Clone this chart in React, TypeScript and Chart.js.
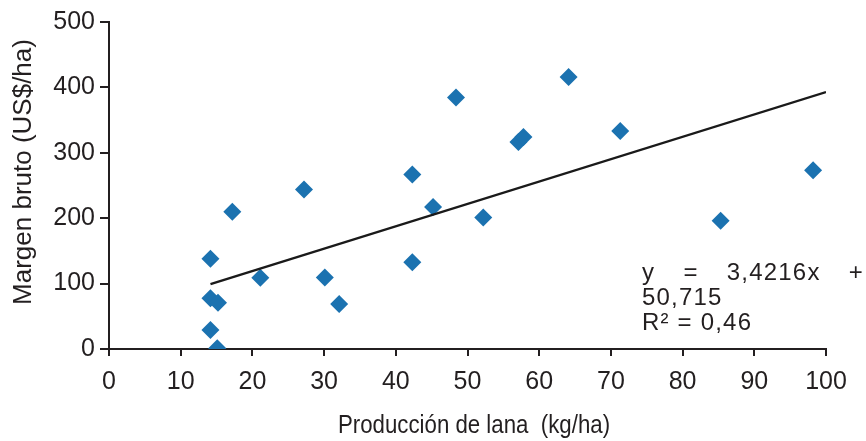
import React, { useEffect, useRef } from "react";
import { Chart, registerables } from "chart.js";

Chart.register(...registerables);

// ---- data ----
const produccionLana = [14.15, 17.2, 27.2, 21.1, 30.1, 32.1, 14.15, 15.2, 14.15, 15.1, 42.3, 45.2, 52.2, 48.4, 57.1, 57.8, 64.1, 71.3, 85.3, 98.2, 42.3];
const margenBruto = [138, 209.7, 244, 109, 109.5, 68.7, 77.5, 70.7, 29, 1, 267, 217, 201, 384.5, 316.7, 324.3, 416, 333.5, 196, 273.5, 132.5];
const trendSlope = 3.4216;
const trendIntercept = 50.715;
const trendRange = [14.15, 100];
const xTicks = [0, 10, 20, 30, 40, 50, 60, 70, 80, 90, 100];
const yTicks = [0, 100, 200, 300, 400, 500];
const xTitle = "Producción de lana  (kg/ha)";
const yTitle = "Margen bruto (US$/ha)";
const eqLine1 = ["y", "=", "3,4216x", "+"];
const eqLine2 = "50,715";
const eqLine3 = "R² = 0,46";

const FONT = "'Liberation Sans', Arial, sans-serif";
const INK = "#231f20";
const BLUE = "#1b72b0";

const textPlugin = {
  id: "textPlugin",
  afterDraw(chart: any) {
    const ctx = chart.ctx as CanvasRenderingContext2D;
    ctx.save();
    ctx.fillStyle = INK;
    ctx.textBaseline = "middle";
    // y title
    ctx.save();
    ctx.font = `26px ${FONT}`;
    ctx.translate(24, 172);
    ctx.rotate(-Math.PI / 2);
    ctx.textAlign = "center";
    ctx.fillText(yTitle, 0, 0);
    ctx.restore();
    // x title (slightly condensed, as in the reference)
    ctx.save();
    ctx.font = `25px ${FONT}`;
    ctx.textAlign = "center";
    ctx.translate(474, 426);
    ctx.scale(0.89, 1);
    ctx.fillText(xTitle, 0, 0);
    ctx.restore();
    // equation
    ctx.save();
    ctx.font = `24px ${FONT}`;
    (ctx as any).letterSpacing = "1.2px";
    ctx.textAlign = "left";
    const left = 642;
    const right = 864;
    const widths = eqLine1.map((w) => ctx.measureText(w).width);
    const total = widths.reduce((a, b) => a + b, 0);
    const gap = (right - left - total) / (eqLine1.length - 1);
    let x = left;
    eqLine1.forEach((w, i) => {
      ctx.fillText(w, x, 273);
      x += widths[i] + gap;
    });
    ctx.fillText(eqLine2, left, 298);
    ctx.fillText(eqLine3, left, 323);
    ctx.restore();
    ctx.restore();
  },
};

export default function App() {
  const ref = useRef<HTMLCanvasElement | null>(null);
  useEffect(() => {
    if (!ref.current) return;
    const points = produccionLana.map((x, i) => ({ x, y: margenBruto[i] }));
    const trend = trendRange.map((x) => ({ x, y: trendSlope * x + trendIntercept }));
    const chart = new Chart(ref.current, {
      type: "scatter",
      data: {
        datasets: [
          {
            type: "scatter",
            data: points,
            pointStyle: "rectRot",
            pointRadius: 9,
            pointBackgroundColor: BLUE,
            pointBorderWidth: 0,
            clip: 0,
            order: 2,
          } as any,
          {
            type: "line",
            data: trend,
            borderColor: "#1a1a1a",
            borderWidth: 2.4,
            pointRadius: 0,
            fill: false,
            order: 1,
          } as any,
        ],
      },
      options: {
        responsive: false,
        animation: false,
        events: [],
        layout: { padding: { top: 22, right: 40, left: 0, bottom: 0 } },
        plugins: { legend: { display: false }, tooltip: { enabled: false } },
        scales: {
          x: {
            type: "linear",
            min: 0,
            max: 100,
            afterFit: (s: any) => { s.height = 92; },
            afterBuildTicks: (s: any) => { s.ticks = xTicks.map((v) => ({ value: v })); },
            ticks: { font: { family: FONT, size: 25 }, color: INK, padding: 11, maxRotation: 0, autoSkip: false },
            grid: { drawOnChartArea: false, drawTicks: true, tickLength: 7, color: INK, lineWidth: 2 },
            border: { display: true, color: INK, width: 2 },
          },
          y: {
            type: "linear",
            min: 0,
            max: 500,
            afterFit: (s: any) => { s.width = 109; },
            afterBuildTicks: (s: any) => { s.ticks = yTicks.map((v) => ({ value: v })); },
            ticks: { font: { family: FONT, size: 25 }, color: INK, padding: 5 },
            grid: { drawOnChartArea: false, drawTicks: true, tickLength: 9, color: INK, lineWidth: 2 },
            border: { display: true, color: INK, width: 2 },
          },
        },
      },
      plugins: [textPlugin],
    });
    return () => chart.destroy();
  }, []);
  return (
    <div style={{ position: "fixed", left: 0, top: 0, width: 866, height: 441, background: "#fff" }}>
      <canvas ref={ref} width={866} height={441} style={{ display: "block" }} />
    </div>
  );
}
